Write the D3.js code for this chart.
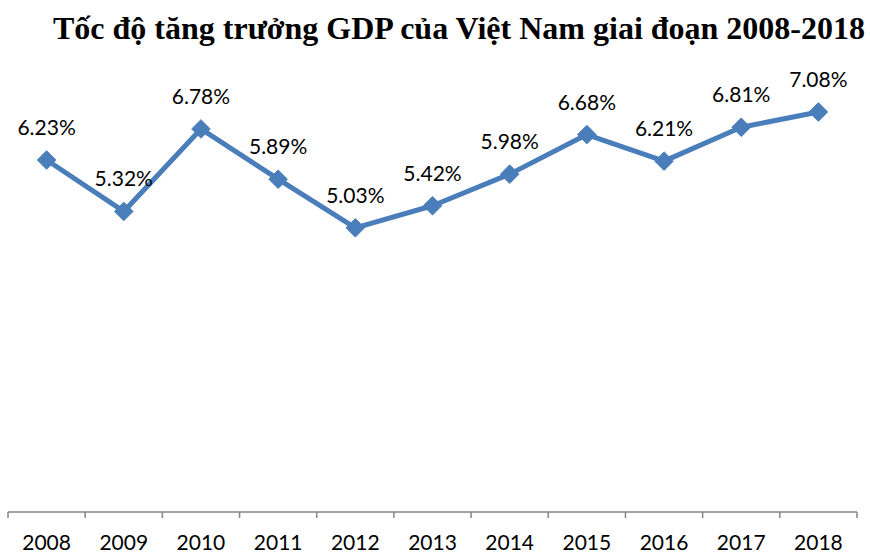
<!DOCTYPE html>
<html>
<head>
<meta charset="utf-8">
<script src="https://cdn.jsdelivr.net/npm/d3@7"></script>
<style>
  body { margin: 0; background: #fff; }
  svg { display: block; }
</style>
</head>
<body>
<div id="chart"></div>
<script>
// Chart data
const titleText = "Tốc độ tăng trưởng GDP của Việt Nam giai đoạn 2008-2018";
const years = ["2008", "2009", "2010", "2011", "2012", "2013", "2014", "2015", "2016", "2017", "2018"];
const growth = [6.23, 5.32, 6.78, 5.89, 5.03, 5.42, 5.98, 6.68, 6.21, 6.81, 7.08];

const width = 870, height = 554;
const lineColor = "#4A7EBB";

const svg = d3.select("#chart").append("svg")
    .attr("width", width)
    .attr("height", height);

// Scales
const x = d3.scaleBand().domain(years).range([8, 857]);
const y = d3.scaleLinear().domain([0, 8]).range([512, 60]);

// Title, sized to span the reference width
const title = svg.append("text")
    .attr("x", 459)
    .attr("y", 39)
    .attr("text-anchor", "middle")
    .style("font-family", "'Liberation Serif', 'Times New Roman', serif")
    .style("font-weight", "bold")
    .style("font-size", "28px")
    .style("fill", "#000")
    .text(titleText);
const w = title.node().getComputedTextLength();
title.style("font-size", (28 * 812 / w).toFixed(2) + "px");

// Category axis
const axis = svg.append("g")
    .attr("transform", `translate(0,${y(0)})`);
axis.append("line")
    .attr("x1", x.range()[0]).attr("x2", x.range()[1])
    .attr("stroke", "#868686").attr("stroke-width", 1.5);
axis.selectAll(".tick")
    .data(d3.range(years.length + 1))
    .enter().append("line")
    .attr("x1", i => x.range()[0] + i * x.step())
    .attr("x2", i => x.range()[0] + i * x.step())
    .attr("y1", 0).attr("y2", 6)
    .attr("stroke", "#868686").attr("stroke-width", 1.5);
axis.selectAll(".year")
    .data(years)
    .enter().append("text")
    .attr("x", d => x(d) + x.bandwidth() / 2)
    .attr("y", 38)
    .attr("text-anchor", "middle")
    .style("font-family", "Lato, 'Noto Sans', sans-serif")
    .style("font-size", "21px")
    .style("fill", "#000")
    .text(d => d);

// Line
const points = years.map((d, i) => ({ year: d, value: growth[i] }));
const line = d3.line()
    .x(d => x(d.year) + x.bandwidth() / 2)
    .y(d => y(d.value));

svg.append("path")
    .datum(points)
    .attr("d", line)
    .attr("fill", "none")
    .attr("stroke", lineColor)
    .attr("stroke-width", 5)
    .attr("stroke-linejoin", "round");

// Diamond markers
const diamond = d3.symbol().type(d3.symbolDiamond2).size(220);
svg.selectAll(".marker")
    .data(points)
    .enter().append("path")
    .attr("transform", d => `translate(${x(d.year) + x.bandwidth() / 2},${y(d.value)})`)
    .attr("d", diamond)
    .attr("fill", lineColor)
    .attr("stroke", lineColor)
    .attr("stroke-width", 1);

// Data labels
svg.selectAll(".label")
    .data(points)
    .enter().append("text")
    .attr("x", d => x(d.year) + x.bandwidth() / 2)
    .attr("y", d => y(d.value) - 25)
    .attr("text-anchor", "middle")
    .style("font-family", "Lato, 'Noto Sans', sans-serif")
    .style("font-size", "21px")
    .style("fill", "#000")
    .text(d => d.value.toFixed(2) + "%");
</script>
</body>
</html>
